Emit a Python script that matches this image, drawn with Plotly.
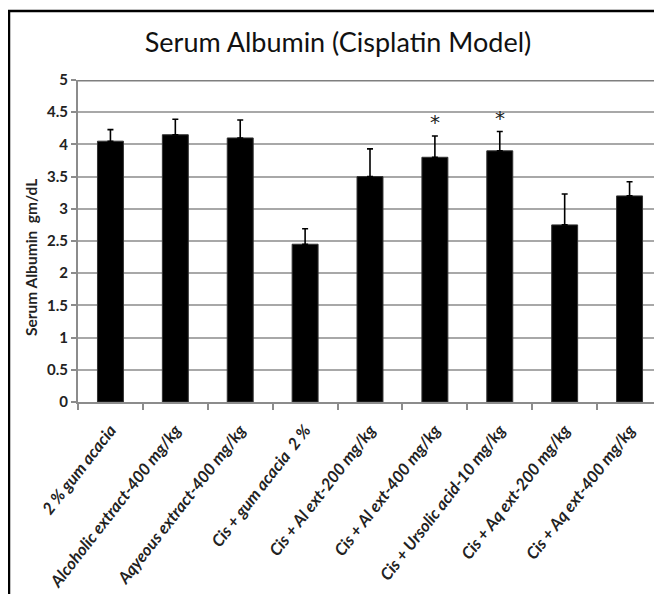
import plotly.graph_objects as go

categories = [
    "2 % gum acacia",
    "Alcoholic extract-400 mg/kg",
    "Aqyeous extract-400 mg/kg",
    "Cis + gum acacia  2 %",
    "Cis + Al ext-200 mg/kg",
    "Cis + Al ext-400 mg/kg",
    "Cis + Ursolic acid-10 mg/kg",
    "Cis + Aq ext-200 mg/kg",
    "Cis + Aq ext-400 mg/kg",
]
albumin = [4.05, 4.15, 4.10, 2.45, 3.50, 3.80, 3.90, 2.75, 3.20]
err_plus = [0.18, 0.24, 0.28, 0.24, 0.43, 0.33, 0.30, 0.48, 0.22]
significant = [False, False, False, False, False, True, True, False, False]
y_ticks = [0, 0.5, 1, 1.5, 2, 2.5, 3, 3.5, 4, 4.5, 5]

# page body has an 8px margin; figure coords = window coords - 8
OFF = 8
W, H = 662 - OFF, 594 - OFF
L, T = 78 - OFF, 80 - OFF
R = 0
B = H - (402 - OFF)

fig = go.Figure()
fig.add_trace(go.Bar(
    x=categories, y=albumin, width=0.4,
    marker=dict(color="black", line=dict(color="#333333", width=1)),
    error_y=dict(type="data", symmetric=False, array=err_plus,
                 arrayminus=[0] * len(albumin),
                 color="black", thickness=1.6, width=3),
    hoverinfo="skip",
))

annotations = []
for c, v, e, s in zip(categories, albumin, err_plus, significant):
    if s:
        annotations.append(dict(x=c, y=v + e, text="*", showarrow=False,
                                yanchor="bottom", yshift=0,
                                font=dict(family="DejaVu Sans", size=20, color="#222")))

plot_w = W - L - R
plot_h = H - T - B
def px(xw):
    return (xw - OFF - L) / plot_w
def py(yw):
    return (H - B - (yw - OFF)) / plot_h

annotations.append(dict(xref="paper", yref="paper", x=px(31), y=py(258),
                        xanchor="center", yanchor="middle",
                        text="Serum Albumin  gm/dL", textangle=-90, showarrow=False,
                        font=dict(family="Lato", size=15.5, color="#222", weight="bold")))

shapes = [
    dict(type="line", xref="paper", yref="paper", x0=px(9), x1=px(9), y0=py(11), y1=py(600),
         line=dict(color="black", width=2.5)),
    dict(type="line", xref="paper", yref="paper", x0=px(8), x1=px(670), y0=py(11), y1=py(11),
         line=dict(color="black", width=2.5)),
    dict(type="line", xref="paper", yref="y", x0=0, x1=1, y0=5, y1=5,
         line=dict(color="#7f7f7f", width=3)),
]

fig.update_layout(
    width=W, height=H,
    margin=dict(l=L, r=R, t=T, b=B),
    paper_bgcolor="white", plot_bgcolor="white",
    showlegend=False,
    title=dict(text="Serum Albumin (Cisplatin Model)", x=(338 - OFF) / W, xref="container",
               y=1 - (43 - OFF) / H, yref="container", xanchor="center", yanchor="middle",
               font=dict(family="Lato", size=27, color="#111")),
    xaxis=dict(
        tickangle=-52, tickson="boundaries", ticks="outside", ticklen=6,
        tickcolor="#8c8c8c", tickwidth=1.5,
        showline=True, linecolor="#8c8c8c", linewidth=2,
        showgrid=False, ticklabelstandoff=10,
        tickfont=dict(family="Lato", size=16.5, color="#222", weight="bold", style="italic"),
    ),
    yaxis=dict(
        range=[0, 5], tickvals=y_ticks, ticktext=[f"{t:g}" for t in y_ticks],
        ticks="outside", ticklen=5, tickcolor="#8c8c8c", tickwidth=1.5,
        showline=True, linecolor="#8c8c8c", linewidth=2,
        showgrid=True, gridcolor="#a8a8a8", gridwidth=2,
        zeroline=False,
        tickfont=dict(family="Lato", size=15, color="#222", weight="bold"),
    ),
    annotations=annotations,
    shapes=shapes,
)

fig.write_html("out.html")
